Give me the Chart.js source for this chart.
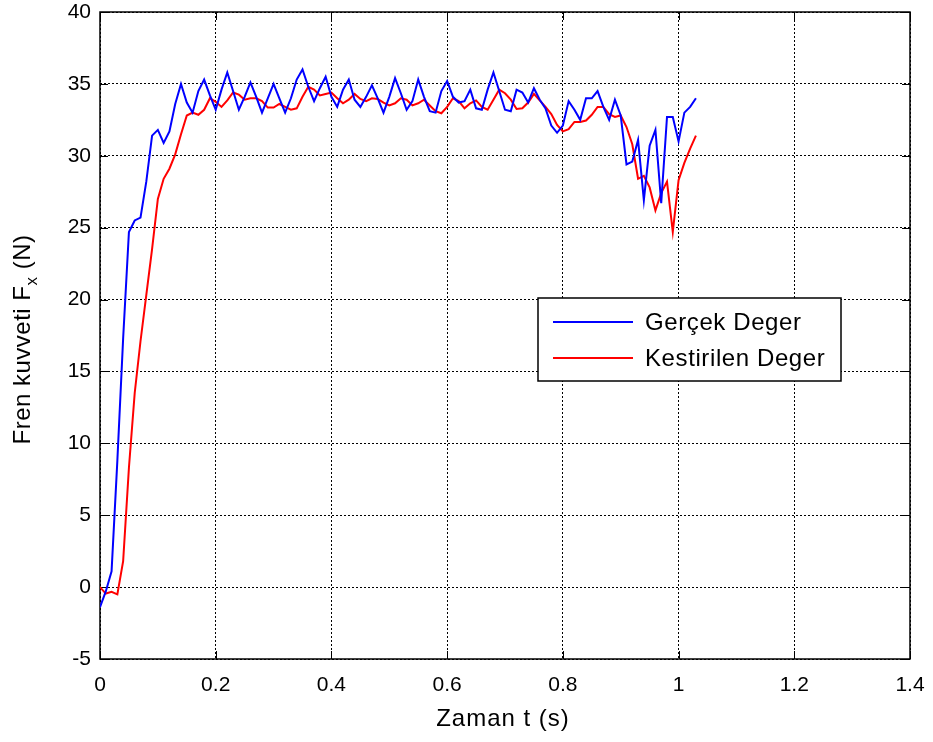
<!DOCTYPE html>
<html><head><meta charset="utf-8">
<script src="https://cdn.jsdelivr.net/npm/chart.js@4/dist/chart.umd.min.js"></script>
<style>html,body{margin:0;padding:0;background:#fff;}#wrap{width:933px;height:742px;}</style>
</head><body><div id="wrap"><canvas id="c" width="933" height="742"></canvas></div>
<script>
const time = [0,0.01,0.02,0.03,0.04,0.05,0.06,0.07,0.08,0.09,
0.10,0.11,0.12,0.13,0.14,0.15,0.16,0.17,0.18,0.19,
0.20,0.21,0.22,0.23,0.24,0.25,0.26,0.27,0.28,0.29,
0.30,0.31,0.32,0.33,0.34,0.35,0.36,0.37,0.38,0.39,
0.40,0.41,0.42,0.43,0.44,0.45,0.46,0.47,0.48,0.49,
0.50,0.51,0.52,0.53,0.54,0.55,0.56,0.57,0.58,0.59,
0.60,0.61,0.62,0.63,0.64,0.65,0.66,0.67,0.68,0.69,
0.70,0.71,0.72,0.73,0.74,0.75,0.76,0.77,0.78,0.79,
0.80,0.81,0.82,0.83,0.84,0.85,0.86,0.87,0.88,0.89,
0.90,0.91,0.92,0.93,0.94,0.95,0.96,0.97,0.98,0.99,
1.00,1.01,1.02,1.03];
const gercekDeger = [-1.4,-0.3,1.1,8.8,17.3,24.7,25.5,25.7,28.2,31.4,
31.8,30.9,31.7,33.6,35.0,33.7,33.0,34.5,35.3,34.2,
33.2,34.6,35.8,34.5,33.2,34.1,35.1,34.1,33.0,34.0,
35.0,34.0,33.0,34.0,35.3,36.0,34.8,33.8,34.7,35.5,
34.1,33.4,34.6,35.3,33.9,33.4,34.1,34.9,34.0,33.0,
34.1,35.4,34.35,33.2,33.8,35.3,34.1,33.1,33.0,34.5,
35.2,34.1,33.7,33.8,34.6,33.3,33.2,34.6,35.8,34.5,
33.2,33.1,34.6,34.4,33.7,34.7,33.9,33.3,32.1,31.6,
32.1,33.8,33.2,32.5,34.0,34.0,34.5,33.4,32.5,33.9,
32.8,29.4,29.6,31.1,26.9,30.7,31.8,26.7,32.7,32.7,
31.0,33.0,33.4,34.0];
const kestirilenDeger = [0.0,-0.45,-0.33,-0.5,1.8,8.3,13.5,17.1,20.3,23.5,
27.0,28.4,29.1,30.1,31.5,32.8,33.0,32.85,33.2,34.0,
33.75,33.4,33.85,34.4,34.25,33.9,34.0,34.0,33.8,33.35,
33.35,33.6,33.4,33.2,33.3,34.1,34.8,34.6,34.2,34.3,
34.4,34.0,33.65,33.9,34.3,33.95,33.8,34.0,33.95,33.7,
33.5,33.65,34.0,33.9,33.5,33.65,33.9,33.5,33.1,32.96,
33.4,34.0,33.8,33.3,33.65,33.85,33.4,33.2,33.9,34.6,
34.35,33.9,33.25,33.3,33.7,34.3,33.85,33.4,32.9,32.15,
31.7,31.85,32.35,32.35,32.45,32.85,33.4,33.4,32.9,32.7,
32.8,32.0,30.8,28.4,28.6,27.8,26.2,27.4,28.2,24.7,
28.3,29.5,30.5,31.4];
const seriesNames = ['Gerçek Deger','Kestirilen Deger'];
const seriesColors = ['#0000ff','#ff0000'];
const xRange = [0, 1.4], xStep = 0.2;
const yRange = [-5, 40], yStep = 5;
const xTitle = 'Zaman t (s)';
const yTitleMain = 'Fren kuvveti F', yTitleSub = 'x', yTitleEnd = ' (N)';

const FONT = '"Liberation Sans", Arial, sans-serif';

const frame = {
  id: 'frame',
  beforeDatasetsDraw(chart) {
    const {ctx, chartArea: a, scales} = chart;
    ctx.save();
    ctx.strokeStyle = '#000';
    ctx.lineWidth = 1.5;
    ctx.setLineDash([]);
    ctx.strokeRect(a.left, a.top, a.right - a.left, a.bottom - a.top);
    ctx.lineWidth = 1;
    const tl = 8;
    ctx.beginPath();
    scales.x.ticks.forEach(t => {
      const px = Math.round(scales.x.getPixelForValue(t.value)) + 0.5;
      ctx.moveTo(px, a.bottom); ctx.lineTo(px, a.bottom - tl);
      ctx.moveTo(px, a.top); ctx.lineTo(px, a.top + tl);
    });
    scales.y.ticks.forEach(t => {
      const py = Math.round(scales.y.getPixelForValue(t.value)) + 0.5;
      ctx.moveTo(a.left, py); ctx.lineTo(a.left + tl, py);
      ctx.moveTo(a.right, py); ctx.lineTo(a.right - tl, py);
    });
    ctx.stroke();
    ctx.restore();
  },
  afterDraw(chart) {
    const {ctx, chartArea: a} = chart;
    // x axis title
    ctx.save();
    ctx.fillStyle = '#000';
    ctx.font = '24px ' + FONT;
    ctx.letterSpacing = '1px';
    ctx.textAlign = 'center';
    ctx.textBaseline = 'middle';
    ctx.fillText(xTitle, (a.left + a.right) / 2 - 2, 719);
    ctx.restore();

    // y axis title with subscript
    ctx.save();
    ctx.fillStyle = '#000';
    ctx.textBaseline = 'alphabetic';
    ctx.letterSpacing = '0.5px';
    const fMain = '24px ' + FONT, fSub = '17px ' + FONT;
    ctx.font = fMain; const w1 = ctx.measureText(yTitleMain).width; const w3 = ctx.measureText(yTitleEnd).width;
    ctx.font = fSub; const w2 = ctx.measureText(yTitleSub).width;
    const total = w1 + w2 + w3;
    ctx.translate(30, (a.top + a.bottom) / 2 + 4);
    ctx.rotate(-Math.PI / 2);
    let x0 = -total / 2;
    ctx.font = fMain; ctx.fillText(yTitleMain, x0, 0);
    ctx.font = fSub; ctx.fillText(yTitleSub, x0 + w1, 7);
    ctx.font = fMain; ctx.fillText(yTitleEnd, x0 + w1 + w2, 0);
    ctx.restore();

    // legend
    ctx.save();
    const lx = 538, ly = 298, lw = 303, lh = 83;
    ctx.fillStyle = '#fff';
    ctx.fillRect(lx, ly, lw, lh);
    ctx.strokeStyle = '#000'; ctx.lineWidth = 1.5;
    ctx.strokeRect(lx, ly, lw, lh);
    ctx.font = '24px ' + FONT;
    ctx.letterSpacing = '0.6px';
    ctx.textBaseline = 'middle';
    chart.data.datasets.forEach((ds, i) => {
      const yy = ly + 24 + i * 36;
      ctx.strokeStyle = ds.borderColor; ctx.lineWidth = 2;
      ctx.beginPath(); ctx.moveTo(lx + 15, yy); ctx.lineTo(lx + 95, yy); ctx.stroke();
      ctx.fillStyle = '#000';
      ctx.fillText(ds.label, lx + 107, yy + 1);
    });
    ctx.restore();
  }
};

new Chart(document.getElementById('c'), {
  type: 'line',
  data: {
    datasets: [
      {label: seriesNames[0], data: time.map((t, i) => ({x: t, y: gercekDeger[i]})), borderColor: seriesColors[0], borderWidth: 2, pointRadius: 0, tension: 0, fill: false},
      {label: seriesNames[1], data: time.map((t, i) => ({x: t, y: kestirilenDeger[i]})), borderColor: seriesColors[1], borderWidth: 2, pointRadius: 0, tension: 0, fill: false}
    ]
  },
  options: {
    responsive: false, animation: false, devicePixelRatio: 1,
    layout: {padding: {left: 0, right: 23, top: 12, bottom: 0}},
    plugins: {legend: {display: false}, tooltip: {enabled: false}},
    scales: {
      x: {
        type: 'linear', min: xRange[0], max: xRange[1],
        afterFit: s => { s.height = 83; s.paddingLeft = 0; s.paddingRight = 0; },
        ticks: {stepSize: xStep, color: '#000', font: {family: FONT, size: 21}, padding: 14, maxRotation: 0,
          callback: v => String(Number(v.toFixed(1)))},
        grid: {color: '#000', lineWidth: 1, drawTicks: false},
        border: {display: false, dash: [2, 2]}
      },
      y: {
        type: 'linear', min: yRange[0], max: yRange[1],
        afterFit: s => { s.width = 100; s.paddingTop = 0; s.paddingBottom = 0; },
        ticks: {stepSize: yStep, color: '#000', font: {family: FONT, size: 21}, padding: 9},
        grid: {color: '#000', lineWidth: 1, drawTicks: false},
        border: {display: false, dash: [2, 2]}
      }
    }
  },
  plugins: [frame]
});
</script></body></html>
